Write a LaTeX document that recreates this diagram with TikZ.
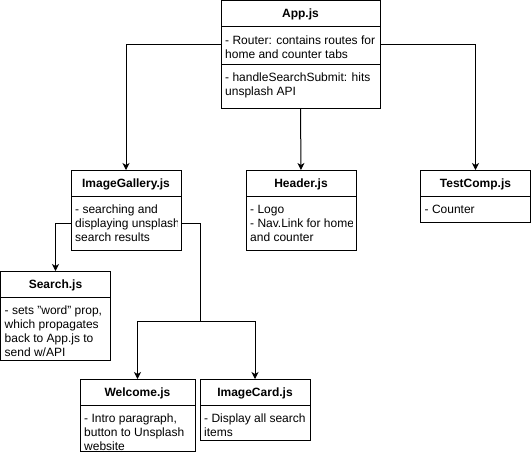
\documentclass[tikz,border=0pt]{standalone}
\usepackage{fontspec}
\setmainfont{Liberation Sans}
\usetikzlibrary{arrows.meta}
\begin{document}
\begin{tikzpicture}[x=1pt,y=-1pt,
  umlbox/.style={draw, line width=1pt, inner sep=0pt, outer sep=0pt, anchor=north west},
  ttl/.style={font=\fontsize{12}{14}\selectfont\bfseries, inner sep=0pt, anchor=base},
  txt/.style={font=\fontsize{12}{14}\selectfont, inner sep=0pt, anchor=north west, align=left},
  divider/.style={line width=1pt},
  conn/.style={line width=1pt, -{Stealth[length=7pt,width=7pt,inset=2pt]}}]
\fill[white] (0,0) rectangle (531,464);
\useasboundingbox (0,0) rectangle (531,464);

% boxes
\node[umlbox, minimum width=159pt, minimum height=107.5pt] (app) at (221,0.5) {};
\node[umlbox, minimum width=110pt, minimum height=80pt] (ig) at (71,170) {};
\node[umlbox, minimum width=110pt, minimum height=80pt] (hdr) at (246,170) {};
\node[umlbox, minimum width=110pt, minimum height=52pt] (tc) at (420.5,170) {};
\node[umlbox, minimum width=110pt, minimum height=89pt] (srch) at (0.5,271) {};
\node[umlbox, minimum width=115pt, minimum height=72pt] (wel) at (80,379) {};
\node[umlbox, minimum width=110pt, minimum height=61pt] (card) at (200,379) {};

% dividers
\draw[divider] ([yshift=-26pt]app.north west) -- ([yshift=-26pt]app.north east);
\draw[divider] ([yshift=-63.5pt]app.north west) -- ([yshift=-63.5pt]app.north east);
\foreach \b in {ig,hdr,tc,srch,wel,card}
  \draw[divider] ([yshift=-26pt]\b.north west) -- ([yshift=-26pt]\b.north east);

% titles
\node[ttl] (appT) at (300.5,17.8) {App.js};
\node[ttl] (igT) at (126,187.3) {ImageGallery.js};
\node[ttl] (hdrT) at (301,187.3) {Header.js};
\node[ttl] (tcT) at (475.5,187.3) {TestComp.js};
\node[ttl] (srchT) at (55.5,288.3) {Search.js};
\node[ttl] (welT) at (137.5,396.3) {Welcome.js};
\node[ttl] (cardT) at (255,396.3) {ImageCard.js};

% texts
\node[txt] (appA) at (225,34.2) {\strut- Router: contains routes for\\home and counter tabs};
\node[txt] (appB) at (225,71.5) {\strut- handleSearchSubmit: hits\\unsplash API};
\begin{scope}
  \clip (ig.north west) rectangle ([xshift=-3.5pt]ig.south east);
  \node[txt] (igA) at (75,203.5) {\strut- searching and\\displaying unsplash\\search results};
\end{scope}
\begin{scope}
  \clip (hdr.north west) rectangle ([xshift=-3.5pt]hdr.south east);
  \node[txt] (hdrA) at (250,203.5) {\strut- Logo\\- Nav.Link for home\\and counter};
\end{scope}
\node[txt] (tcA) at (424.5,203.5) {\strut- Counter};
\node[txt] (srchA) at (4.5,304.5) {\strut- sets "word" prop,\\which propagates\\back to App.js to\\send w/API};
\node[txt] (welA) at (84,412.5) {\strut- Intro paragraph,\\button to Unsplash\\website};
\node[txt] (cardA) at (204,412.5) {\strut- Display all search\\items};

% connectors
\coordinate (split) at (200,321);
\draw[conn] ([yshift=-44pt]app.north west) -| (ig.north);
\draw[conn] (app.south) -- (hdr.north);
\draw[conn] ([yshift=-44pt]app.north east) -| (tc.north);
\draw[conn] ([yshift=-53pt]ig.north west) -| (srch.north);
\draw[conn] ([yshift=-53pt]ig.north east) -| (split) -| (wel.north);
\draw[conn] ([yshift=-53pt]ig.north east) -| (split) -| (card.north);
\end{tikzpicture}
\end{document}
